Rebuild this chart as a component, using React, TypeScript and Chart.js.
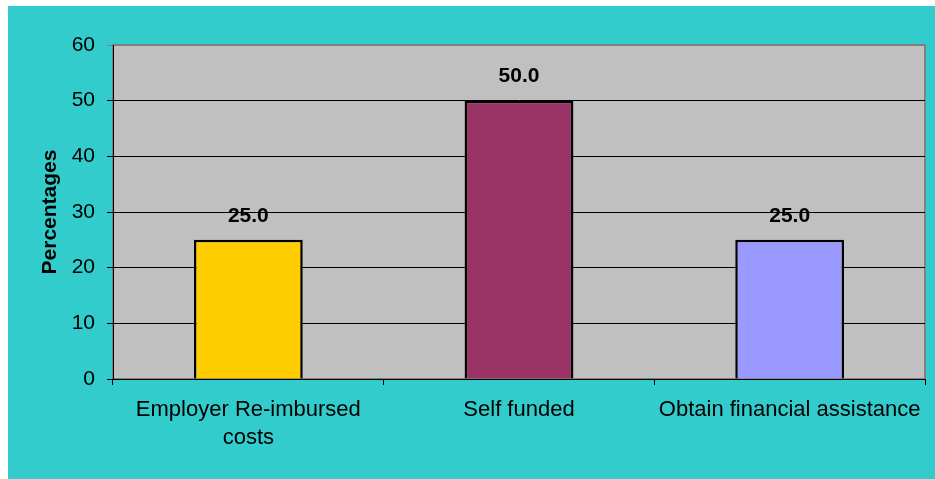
import React, { useEffect, useRef } from "react";
import { Chart, registerables } from "chart.js";

Chart.register(...registerables);

const categories: (string | string[])[] = [
  ["Employer Re-imbursed", "costs"],
  "Self funded",
  "Obtain financial assistance",
];
const values: number[] = [25.0, 50.0, 25.0];
const barColors: string[] = ["#FFCC00", "#993366", "#9999FF"];
const yTicks: number[] = [0, 10, 20, 30, 40, 50, 60];
const yTitle = "Percentages";

const FONT = "'Liberation Sans', Arial, sans-serif";

const plotBg = {
  id: "plotBg",
  beforeDraw(chart: any) {
    const { ctx, chartArea: a } = chart;
    ctx.save();
    ctx.fillStyle = "#C0C0C0";
    ctx.fillRect(a.left, a.top, a.right - a.left, a.bottom - a.top);
    ctx.strokeStyle = "#808080";
    ctx.lineWidth = 2;
    ctx.strokeRect(a.left, a.top, a.right - a.left, a.bottom - a.top);
    ctx.restore();
  },
};

const dataLabels = {
  id: "dataLabels",
  afterDatasetsDraw(chart: any) {
    const { ctx } = chart;
    const meta = chart.getDatasetMeta(0);
    ctx.save();
    ctx.font = `bold 21px ${FONT}`;
    ctx.fillStyle = "#000";
    ctx.textAlign = "center";
    ctx.textBaseline = "middle";
    meta.data.forEach((el: any, i: number) => {
      ctx.fillText(values[i].toFixed(1), el.x, el.y - 24);
    });
    ctx.restore();
  },
};

export default function App() {
  const ref = useRef<HTMLCanvasElement | null>(null);
  useEffect(() => {
    if (!ref.current) return;
    const chart = new Chart(ref.current, {
      type: "bar",
      data: {
        labels: categories,
        datasets: [
          {
            data: values,
            backgroundColor: barColors,
            borderColor: "#000",
            borderWidth: 2.5,
            categoryPercentage: 1,
            barPercentage: 0.402,
          },
        ],
      },
      options: {
        responsive: false,
        animation: false,
        layout: { padding: { top: 39, right: 10, left: 0, bottom: 0 } },
        plugins: {
          legend: { display: false },
          tooltip: { enabled: false },
        },
        scales: {
          x: {
            grid: {
              display: true,
              offset: true,
              drawOnChartArea: false,
              tickLength: 6,
              color: "#000",
            },
            border: { display: true, color: "#000", width: 1 },
            ticks: {
              color: "#000",
              padding: 11,
              maxRotation: 0,
              font: { family: FONT, size: 22, lineHeight: 1.27 },
            },
            afterFit: (s: any) => {
              s.height = 100;
            },
          },
          y: {
            min: 0,
            max: 60,
            afterBuildTicks: (s: any) => {
              s.ticks = yTicks.map((v) => ({ value: v }));
            },
            grid: {
              color: (c: any) => (c.tick && c.tick.value === 60 ? "#808080" : "#000"),
              tickLength: 6,
            },
            border: { display: true, color: "#000", width: 1 },
            ticks: {
              color: "#000",
              padding: 12,
              font: { family: FONT, size: 21 },
            },
            title: {
              display: true,
              text: yTitle,
              color: "#000",
              padding: { top: 30, bottom: 0 },
              font: { family: FONT, size: 21, weight: "bold" },
            },
            afterFit: (s: any) => {
              s.width = 105;
            },
          },
        },
      },
      plugins: [plotBg, dataLabels],
    });
    return () => chart.destroy();
  }, []);
  return (
    <div
      style={{
        position: "fixed",
        left: 8,
        top: 6,
        width: 927,
        height: 473,
        background: "#33CCCC",
      }}
    >
      <canvas ref={ref} width={927} height={473} />
    </div>
  );
}
